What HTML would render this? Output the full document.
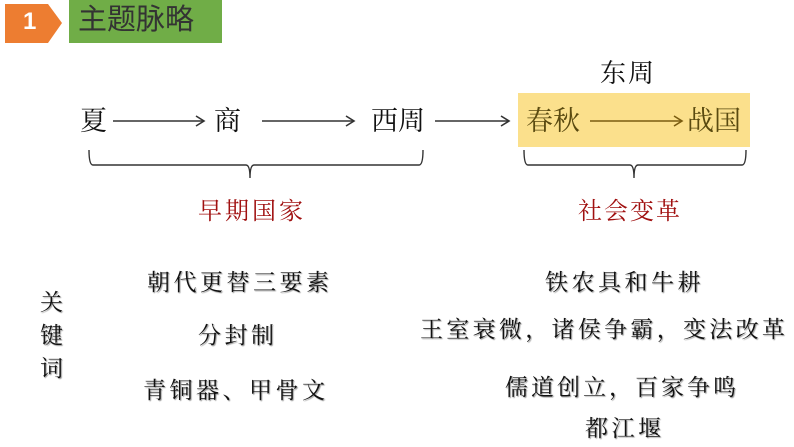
<!DOCTYPE html>
<html><head><meta charset="utf-8"><style>
body{margin:0;width:794px;height:447px;background:#fff;position:relative;overflow:hidden;font-family:"Liberation Serif","Noto Serif CJK SC",serif;}
.t{position:absolute;white-space:nowrap;line-height:1;color:#111;}
.k{font-size:23px;letter-spacing:3.5px;text-shadow:1px 1px 1px #999;}
</style></head><body>
<svg width="794" height="447" style="position:absolute;left:0;top:0">
<polygon points="5,4 48,4 62,23 48,43 5,43" fill="#ed7d31"/>
<rect x="69" y="0" width="153" height="43" fill="#70ad47"/>
<rect x="518" y="93" width="232" height="54" fill="#fbe08c"/>
<g stroke="#333" stroke-width="1.6" fill="none">
<line x1="113" y1="121" x2="203" y2="121"/><polyline points="196,116 204,121 196,126"/>
<line x1="262" y1="121" x2="353" y2="121"/><polyline points="346,116 354,121 346,126"/>
<line x1="435" y1="121" x2="508" y2="121"/><polyline points="501,116 509,121 501,126"/>
</g>
<g stroke="#7a5c10" stroke-width="1.6" fill="none">
<line x1="590" y1="121" x2="681" y2="121"/><polyline points="674,116 682,121 674,126"/>
</g>
<g stroke="#333" stroke-width="1.4" fill="none">
<path d="M89,150 Q89,165 93,165 L246,165 Q250,165 250,178 Q250,165 254,165 L419,165 Q423,165 423,150"/>
<path d="M524,150 Q524,165 528,165 L630,165 Q634,165 634,178 Q634,165 638,165 L742,165 Q746,165 746,150"/>
</g>
</svg>
<div class="t" style="left:23px;top:10px;font-family:'Liberation Sans',sans-serif;font-weight:bold;font-size:24px;color:#fff">1</div>
<div class="t" style="left:78px;top:6px;font-family:'Liberation Sans','Noto Sans CJK SC',sans-serif;font-size:29px;color:#333">主题脉略</div>
<div class="t" style="left:600px;top:61px;font-size:26px;letter-spacing:2px">东周</div>
<div class="t" style="left:80px;top:108px;font-size:27px">夏</div>
<div class="t" style="left:214px;top:108px;font-size:27px">商</div>
<div class="t" style="left:371px;top:108px;font-size:27px">西周</div>
<div class="t" style="left:526px;top:108px;font-size:27px;color:#5a4a10">春秋</div>
<div class="t" style="left:687px;top:108px;font-size:27px;color:#5a4a10">战国</div>
<div class="t" style="left:198px;top:200px;font-size:24px;letter-spacing:3px;color:#a01010">早期国家</div>
<div class="t" style="left:578px;top:200px;font-size:24px;letter-spacing:2px;color:#a01010">社会变革</div>
<div class="t k" style="left:40px;top:286px;line-height:33px;white-space:normal;width:24px">关<br>键<br>词</div>
<div class="t k" style="left:147px;top:271px">朝代更替三要素</div>
<div class="t k" style="left:198px;top:324px">分封制</div>
<div class="t k" style="left:143px;top:379px">青铜器、甲骨文</div>
<div class="t k" style="left:545px;top:271px">铁农具和牛耕</div>
<div class="t k" style="left:420px;top:318px;letter-spacing:3.3px">王室衰微，诸侯争霸，变法改革</div>
<div class="t k" style="left:505px;top:376px;letter-spacing:3px">儒道创立，百家争鸣</div>
<div class="t k" style="left:585px;top:417px">都江堰</div>
</body></html>
